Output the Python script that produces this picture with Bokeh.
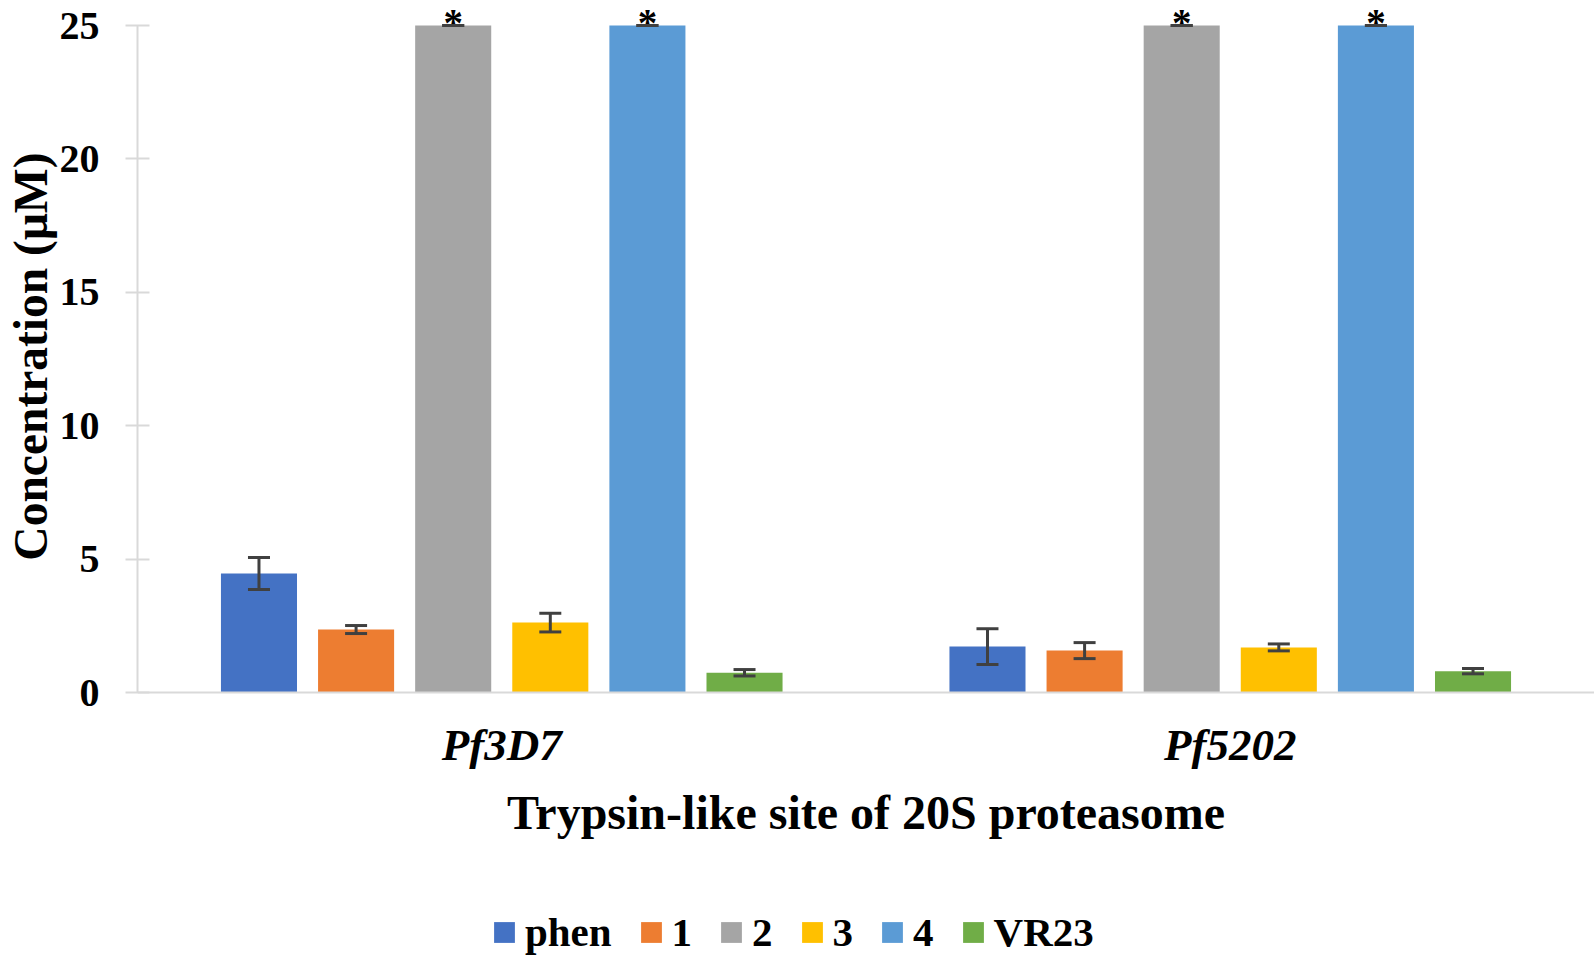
from bokeh.plotting import figure
from bokeh.models import (ColumnDataSource, FactorRange, Range1d, Whisker, TeeHead,
                          Legend, LegendItem, FixedTicker, Title)
from bokeh.transform import dodge
from bokeh.embed import file_html
from bokeh.resources import INLINE
from bokeh.core.properties import value

# ---------------- data ----------------
strains = ["Pf3D7", "Pf5202"]
compounds = ["phen", "1", "2", "3", "4", "VR23"]
phen = [4.46, 1.72]
phen_err = [0.60, 0.67]
cpd1 = [2.36, 1.57]
cpd1_err = [0.15, 0.30]
cpd2 = [25.0, 25.0]
cpd2_err = [0.0, 0.0]
cpd3 = [2.62, 1.69]
cpd3_err = [0.35, 0.13]
cpd4 = [25.0, 25.0]
cpd4_err = [0.0, 0.0]
vr23 = [0.74, 0.80]
vr23_err = [0.12, 0.10]
star_marks = ["", "", "*", "", "*", ""]
y_ticks = [0, 5, 10, 15, 20, 25]
x_title = "Trypsin-like site of 20S proteasome"
y_title = "Concentration (\u03bcM)"

values = [phen, cpd1, cpd2, cpd3, cpd4, vr23]
errors = [phen_err, cpd1_err, cpd2_err, cpd3_err, cpd4_err, vr23_err]
colors = ["#4472C4", "#ED7D31", "#A5A5A5", "#FFC000", "#5B9BD5", "#70AD47"]

# ---------------- figure ----------------
FONT = "Liberation Serif"
W, H = 1594, 956
# frame covers the whole height; y = 0 sits at 692 px, 25 at 25 px
px_per_unit = (692 - 25) / 25.0
y_start = -(H - 692) / px_per_unit
y_end = 25 + 25 / px_per_unit

p = figure(width=W, height=H,
           x_range=FactorRange(factors=strains, range_padding=0),
           y_range=Range1d(y_start, y_end),
           output_backend="svg", toolbar_location=None,
           min_border_left=137, min_border_right=0,
           min_border_top=0, min_border_bottom=0)
p.outline_line_color = None
p.xgrid.grid_line_color = None
p.ygrid.grid_line_color = None
p.background_fill_color = "white"
p.border_fill_color = "white"

step = 0.1333
bar_w = 0.1044
items = []
for i, (name, vals, errs, col) in enumerate(zip(compounds, values, errors, colors)):
    off = (i - 2.5) * step
    src = ColumnDataSource(dict(
        x=strains, top=vals,
        upper=[v + e for v, e in zip(vals, errs)],
        lower=[v - e for v, e in zip(vals, errs)],
        star=[star_marks[i]] * len(strains),
    ))
    r = p.vbar(x=dodge("x", off, range=p.x_range), top="top", bottom=0, width=bar_w,
               source=src, fill_color=col, line_color=None)
    items.append(LegendItem(label=name, renderers=[r]))
    w = Whisker(base=dodge("x", off, range=p.x_range), upper="upper", lower="lower",
                source=src, line_color="#404040", line_width=3, level="overlay",
                upper_head=TeeHead(size=22, line_color="#404040", line_width=3),
                lower_head=TeeHead(size=22, line_color="#404040", line_width=3))
    p.add_layout(w)
    if star_marks[i]:
        p.text(x=dodge("x", off, range=p.x_range), y="top", text="star", source=src,
               text_font=value(FONT), text_font_style="bold", text_font_size="39px",
               text_align="center", text_baseline="middle", y_offset=-3,
               text_color="black")

# ---------------- axes ----------------
xa = p.xaxis[0]
xa.fixed_location = 0
xa.axis_line_color = "#D9D9D9"
xa.axis_line_width = 2
xa.major_tick_line_color = None
xa.minor_tick_line_color = None
xa.major_label_text_font = FONT
xa.major_label_text_font_style = "bold italic"
xa.major_label_text_font_size = "45px"
xa.major_label_text_color = "black"
xa.major_label_standoff = 21
xa.axis_label = x_title
xa.axis_label_text_font = FONT
xa.axis_label_text_font_style = "bold"
xa.axis_label_text_font_size = "48px"
xa.axis_label_text_color = "black"
xa.axis_label_standoff = 13

ya = p.yaxis[0]
ya.bounds = (0, 25)
ya.ticker = FixedTicker(ticks=y_ticks)
ya.axis_line_color = "#D9D9D9"
ya.axis_line_width = 2
ya.major_tick_line_color = "#D9D9D9"
ya.major_tick_line_width = 2
ya.major_tick_in = 12
ya.major_tick_out = 12
ya.minor_tick_line_color = None
ya.major_label_text_font = FONT
ya.major_label_text_font_style = "bold"
ya.major_label_text_font_size = "40px"
ya.major_label_text_color = "black"
ya.major_label_standoff = 26

# y-axis title as a left-side title so it can sit beside the 0-25 span
ytitle = Title(text=y_title, align="right", offset=152, standoff=0,
               text_font=FONT, text_font_style="bold", text_font_size="47.5px",
               text_color="black")
p.add_layout(ytitle, "left")

# ---------------- legend ----------------
legend = Legend(items=items, orientation="horizontal", location=(354, 0),
                glyph_width=26, glyph_height=26, label_standoff=8, spacing=26,
                padding=0, margin=0, border_line_color=None, background_fill_alpha=0,
                label_text_font=FONT, label_text_font_style="bold",
                label_text_font_size="41px", label_text_color="black")
p.add_layout(legend)

open("out.html", "w").write(file_html(p, INLINE))
